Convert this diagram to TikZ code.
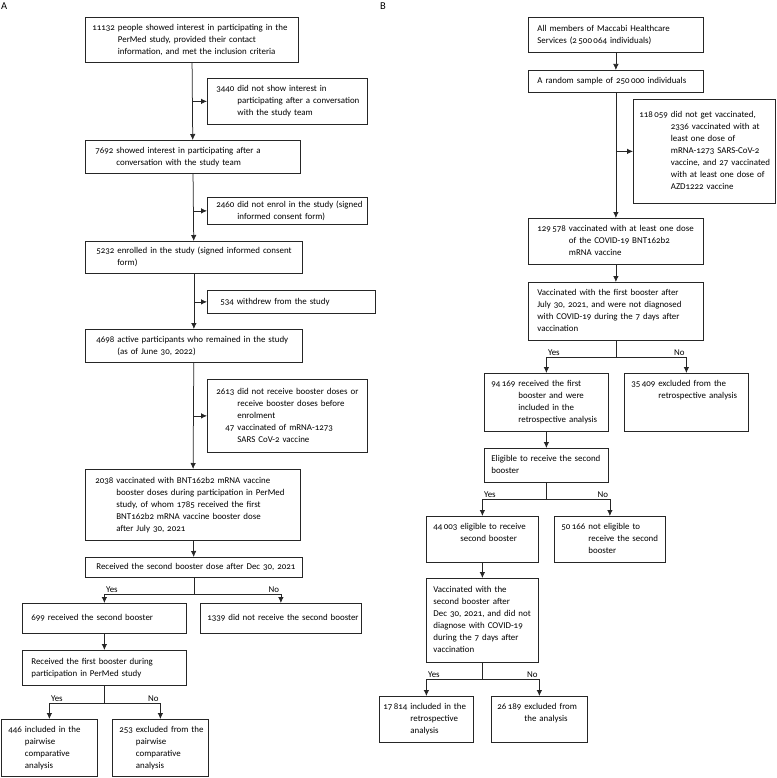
\documentclass[tikz,border=0pt]{standalone}
\usepackage{fontspec}
\setmainfont{Carlito}[Numbers=OldStyle]
\usetikzlibrary{arrows.meta}

\newcommand{\Hang}[2]{\begin{tabular}{@{}r@{\ }l@{}}#1 & #2\end{tabular}}
\newcommand{\Plain}[1]{\begin{tabular}{@{}l@{}}#1\end{tabular}}

\begin{document}
\begin{tikzpicture}[
        x=1pt, y=-1pt,
        %Styles
        Box/.style={
            draw=black!85,
            line width=0.75pt,
            anchor=north west,
            align=left,
            inner xsep=9pt, inner ysep=1pt,
            font=\fontsize{8.9}{12}\selectfont,
        },
        Line/.style={draw=black!85, line width=0.75pt},
        Arrow/.style={Line, -{Latex[length=6pt,width=5.5pt]}},
        Lab/.style={font=\fontsize{8.9}{12}\selectfont, inner sep=1.5pt},
        Panel/.style={anchor=north west, inner sep=1pt, font=\fontsize{10.5}{12}\selectfont},
    ]
\useasboundingbox (0,0) rectangle (776,778);

%panel A
\node[Panel] (labA) at (0,2) {A};
\node[Box, text width=199pt, minimum height=45pt, inner xsep=7pt] (a1) at (85,17)
  {\Hang{11132}{people showed interest in participating in the\\ & PerMed study, provided their contact\\ & information, and met the inclusion criteria}};
\node[Box, text width=142pt, minimum height=46pt] (a2) at (207,78)
  {\Hang{3440}{did not show interest in\\ & participating after a conversation\\ & with the study team}};
\node[Box, text width=195pt, minimum height=33pt, inner xsep=10pt] (a3) at (85,140)
  {\Hang{7692}{showed interest in participating after a\\ & conversation with the study team}};
\node[Box, text width=142pt, minimum height=27pt] (a4) at (207,197)
  {\Hang{2460}{did not enrol in the study (signed\\ & informed consent form)}};
\node[Box, text width=195pt, minimum height=32pt, inner xsep=11pt] (a5) at (85,241)
  {\Hang{5232}{enrolled in the study (signed informed consent\\ & form)}};
\node[Box, text width=142pt, minimum height=23pt, inner xsep=13pt] (a6) at (207,290)
  {\Hang{534}{withdrew from the study}};
\node[Box, text width=195pt, minimum height=33pt, inner xsep=11pt] (a7) at (85,329)
  {\Hang{4698}{active participants who remained in the study\\ & (as of June 30, 2022)}};
\node[Box, text width=142pt, minimum height=73pt] (a8) at (207,379)
  {\Hang{2613}{did not receive booster doses or\\ & receive booster doses before\\ & enrolment\\ 47 & vaccinated of mRNA-1273\\ & SARS CoV-2 vaccine}};
\node[Box, text width=195pt, minimum height=71pt, inner xsep=10pt] (a9) at (85,469)
  {\Hang{2038}{vaccinated with BNT162b2 mRNA vaccine\\ & booster doses during participation in PerMed\\ & study, of whom 1785 received the first\\ & BNT162b2 mRNA vaccine booster dose\\ & after July 30, 2021}};
\node[Box, text width=195pt, minimum height=20pt, inner xsep=11pt] (a10) at (85,557)
  {\Plain{Received the second booster dose after Dec 30, 2021}};
\node[Box, text width=146pt, minimum height=30pt] (a11) at (22,603)
  {\Plain{699 received the second booster}};
\node[Box, text width=147pt, minimum height=30pt, inner xsep=7pt] (a12) at (200,603)
  {\Plain{1339 did not receive the second booster}};
\node[Box, text width=146pt, minimum height=35pt] (a13) at (22,650)
  {\Plain{Received the first booster during\\participation in PerMed study}};
\node[Box, text width=82pt, minimum height=57pt, inner xsep=7pt] (a14) at (1,719)
  {\Hang{446}{included in the\\ & pairwise\\ & comparative\\ & analysis}};
\node[Box, text width=82pt, minimum height=57pt, inner xsep=7pt] (a15) at (112,719)
  {\Hang{253}{excluded from the\\ & pairwise\\ & comparative\\ & analysis}};

\foreach \s/\t in {a1/a3, a3/a5, a5/a7, a7/a9, a9/a10, a11/a13}
  \draw[Arrow] (\s) -- (\t);
\foreach \s/\t in {a1/a2, a3/a4, a5/a6, a7/a8}
  \draw[Arrow] (\t.west -| \s.south) -- (\t.west);

\draw[Line] (a10.south) -- ++(0,17) coordinate (ja1);
\draw[Arrow] (ja1) -| (a11.north);
\draw[Arrow] (ja1) -| (a12.north);
\node[Lab, above right] (ya1) at (ja1 -| a11.north) {Yes};
\node[Lab, above left] (na1) at (ja1 -| a12.north) {No};

\draw[Line] (a13.south) -- ++(0,18) coordinate (ja2);
\draw[Arrow] (ja2) -| (a14.north);
\draw[Arrow] (ja2) -| (a15.north);
\node[Lab, above right] (ya2) at (ja2 -| a14.north) {Yes};
\node[Lab, above left] (na2) at (ja2 -| a15.north) {No};

%panel B
\node[Panel] (labB) at (379,2) {B};
\node[Box, text width=157pt, minimum height=35pt] (b1) at (528,17)
  {\Plain{All members of Maccabi Healthcare\\Services (2\,500\,064 individuals)}};
\node[Box, text width=157pt, minimum height=22pt] (b2) at (528,70)
  {\Plain{A random sample of 250\,000 individuals}};
\node[Box, text width=130pt, minimum height=104pt, inner xsep=6pt] (b3) at (633,99)
  {\Hang{118\,059}{did not get vaccinated,\\ & 2336 vaccinated with at\\ & least one dose of\\ & mRNA-1273 SARS-CoV-2\\ & vaccine, and 27 vaccinated\\ & with at least one dose of\\ & AZD1222 vaccine}};
\node[Box, text width=157pt, minimum height=46pt] (b4) at (528,218)
  {\Hang{129\,578}{vaccinated with at least one dose\\ & of the COVID-19 BNT162b2\\ & mRNA vaccine}};
\node[Box, text width=157pt, minimum height=58pt] (b5) at (528,282)
  {\Plain{Vaccinated with the first booster after\\July 30, 2021, and were not diagnosed\\with COVID-19 during the 7 days after\\vaccination}};
\node[Box, text width=110pt, minimum height=58pt, inner xsep=7pt] (b6) at (484,373)
  {\Hang{94\,169}{received the first\\ & booster and were\\ & included in the\\ & retrospective analysis}};
\node[Box, text width=110pt, minimum height=58pt, inner xsep=7pt] (b7) at (624,373)
  {\Hang{35\,409}{excluded from the\\ & retrospective analysis\\ & \\ & }};
\node[Box, text width=110pt, minimum height=34pt, inner xsep=7pt] (b8) at (484,448)
  {\Plain{Eligible to receive the second\\booster}};
\node[Box, text width=98pt, minimum height=46pt, inner xsep=7pt] (b9) at (426,516)
  {\Hang{44\,003}{eligible to receive\\ & second booster\\ & }};
\node[Box, text width=97pt, minimum height=46pt, inner xsep=7pt] (b10) at (554,516)
  {\Hang{50\,166}{not eligible to\\ & receive the second\\ & booster}};
\node[Box, text width=98pt, minimum height=84pt, inner xsep=7pt] (b11) at (426,578)
  {\Plain{Vaccinated with the\\second booster after\\Dec 30, 2021, and did not\\diagnose with COVID-19\\during the 7 days after\\vaccination}};
\node[Box, text width=86pt, minimum height=46pt, inner xsep=4pt] (b12) at (379,696)
  {\Hang{17\,814}{included in the\\ & retrospective\\ & analysis}};
\node[Box, text width=84pt, minimum height=46pt, inner xsep=6pt] (b13) at (491,696)
  {\Hang{26\,189}{excluded from\\ & the analysis\\ & }};

\foreach \s/\t in {b1/b2, b2/b4, b4/b5, b6/b8, b9/b11}
  \draw[Arrow] (\s) -- (\t);
\draw[Arrow] (b3.west -| b2.south) -- (b3.west);

\draw[Line] (b5.south) -- ++(0,17) coordinate (jb1);
\draw[Arrow] (jb1) -| (b6.north);
\draw[Arrow] (jb1) -| (b7.north);
\node[Lab, above right] (yb1) at (jb1 -| b6.north) {Yes};
\node[Lab, above left] (nb1) at (jb1 -| b7.north) {No};

\draw[Line] (b8.south) -- ++(0,17) coordinate (jb2);
\draw[Arrow] (jb2) -| (b9.north);
\draw[Arrow] (jb2) -| (b10.north);
\node[Lab, above right] (yb2) at (jb2 -| b9.north) {Yes};
\node[Lab, above left] (nb2) at (jb2 -| b10.north) {No};

\draw[Line] (b11.south) -- ++(0,17) coordinate (jb3);
\draw[Arrow] (jb3) -| (b12.north);
\draw[Arrow] (jb3) -| (b13.north);
\node[Lab, above right] (yb3) at (jb3 -| b12.north) {Yes};
\node[Lab, above left] (nb3) at (jb3 -| b13.north) {No};

\end{tikzpicture}
\end{document}
